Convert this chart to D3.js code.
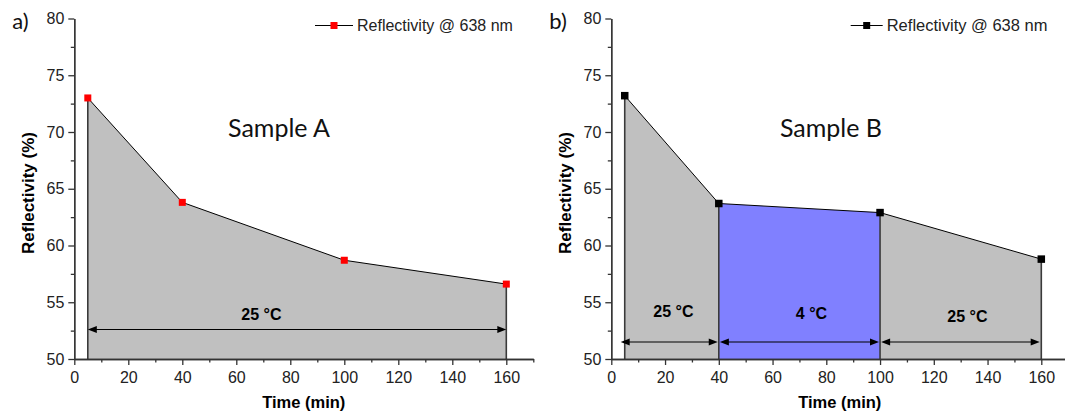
<!DOCTYPE html>
<html>
<head>
<meta charset="utf-8">
<script src="https://cdn.jsdelivr.net/npm/d3@7"></script>
<style>
  body { margin: 0; background: #fff; }
  svg { display: block; }
</style>
</head>
<body>
<div id="chart"></div>
<script>
// values
var timeA = [5, 40, 100, 160];
var reflA = [73.0, 63.8, 58.7, 56.6];
var timeB = [5, 40, 100, 160];
var reflB = [73.2, 63.7, 62.9, 58.8];

// temperature stages (start, end, temperature)
var stageStartA = [5];
var stageEndA = [160];
var stageTempA = [25];
var stageStartB = [5, 40, 100];
var stageEndB = [40, 100, 160];
var stageTempB = [25, 4, 25];

var xTickValues = [0, 20, 40, 60, 80, 100, 120, 140, 160];
var xMinorValues = [10, 30, 50, 70, 90, 110, 130, 150, 170];
var yTickValues = [50, 55, 60, 65, 70, 75, 80];
var yMinorValues = [52.5, 57.5, 62.5, 67.5, 72.5, 77.5];

var legendLabel = "Reflectivity @ 638 nm";
var xLabel = "Time (min)";
var yLabel = "Reflectivity (%)";

var width = 1065, height = 414;
var tempColor = {25: "#c0c0c0", 4: "#8080ff"};
var arial = "'Liberation Sans', Arial, sans-serif";

var svg = d3.select("#chart").append("svg")
  .attr("width", width).attr("height", height);

function drawPanel(p) {
  var x = d3.scaleLinear().domain([0, 170]).range([p.left, p.left + 170 * p.kx]);
  var y = d3.scaleLinear().domain([50, 80]).range([359, 18.5]);
  var g = svg.append("g");
  var pts = p.time.map(function(t, i) { return {t: t, v: p.refl[i]}; });

  // shaded stages
  p.start.forEach(function(s, i) {
    var e = p.end[i];
    var seg = pts.filter(function(d) { return d.t >= s && d.t <= e; });
    var area = d3.area().x(function(d) { return x(d.t); })
      .y0(y(50)).y1(function(d) { return y(d.v); });
    g.append("path").datum(seg).attr("d", area)
      .attr("fill", tempColor[p.temp[i]]).attr("stroke", "none");
  });

  // vertical stage boundaries
  var bounds = [];
  p.start.forEach(function(s, i) {
    if (bounds.indexOf(s) < 0) bounds.push(s);
    if (bounds.indexOf(p.end[i]) < 0) bounds.push(p.end[i]);
  });
  bounds.forEach(function(b) {
    var v = p.refl[p.time.indexOf(b)];
    g.append("line").attr("x1", x(b)).attr("x2", x(b))
      .attr("y1", y(50)).attr("y2", y(v))
      .attr("stroke", "#3a3a3a").attr("stroke-width", 1.6);
  });

  // data line
  var line = d3.line().x(function(d) { return x(d.t); }).y(function(d) { return y(d.v); });
  g.append("path").datum(pts).attr("d", line)
    .attr("fill", "none").attr("stroke", "#000").attr("stroke-width", 1);

  // arrows + labels
  p.start.forEach(function(s, i) {
    var a = p.arrows[i];
    var x1 = x(a[0]), x2 = x(a[1]), yy = y(p.arrowY);
    g.append("line").attr("x1", x1 + 4).attr("x2", x2 - 4)
      .attr("y1", yy).attr("y2", yy)
      .attr("stroke", "#000").attr("stroke-width", 1.2);
    g.append("path")
      .attr("d", "M" + x1 + "," + yy + "l9,-3.5v7z")
      .attr("fill", "#000");
    g.append("path")
      .attr("d", "M" + x2 + "," + yy + "l-9,-3.5v7z")
      .attr("fill", "#000");
    g.append("text")
      .attr("x", x(p.labelX[i])).attr("y", y(p.labelY[i]))
      .attr("text-anchor", "middle")
      .style("font-family", arial)
      .style("font-weight", "bold").style("font-size", "16px")
      .text(p.temp[i] + " °C");
  });

  // markers
  g.selectAll("rect.mk").data(pts).enter().append("rect")
    .attr("class", "mk")
    .attr("x", function(d) { return x(d.t) - p.ms / 2; })
    .attr("y", function(d) { return y(d.v) - p.ms / 2; })
    .attr("width", p.ms).attr("height", p.ms)
    .attr("fill", p.color);

  // axes
  g.append("g").attr("transform", "translate(0," + y(50) + ")")
    .call(d3.axisBottom(x).tickValues(xTickValues).tickSize(6).tickSizeOuter(0).tickPadding(7));
  g.append("g").attr("transform", "translate(0," + y(50) + ")")
    .call(d3.axisBottom(x).tickValues(xMinorValues).tickSize(3.5).tickFormat("").tickSizeOuter(0));
  g.append("g").attr("transform", "translate(" + x(0) + ",0)")
    .call(d3.axisLeft(y).tickValues(yTickValues).tickSize(6).tickSizeOuter(0).tickPadding(4));
  g.append("g").attr("transform", "translate(" + x(0) + ",0)")
    .call(d3.axisLeft(y).tickValues(yMinorValues).tickSize(3.5).tickFormat("").tickSizeOuter(0));
  g.selectAll(".domain, .tick line").attr("stroke", "#333").attr("stroke-width", 1.3);
  g.selectAll(".tick text")
    .attr("font-family", arial).attr("font-size", 16).attr("fill", "#222");

  // axis titles
  g.append("text")
    .attr("x", x(85)).attr("y", 408)
    .attr("text-anchor", "middle")
    .style("font-family", arial)
    .style("font-weight", "bold").style("font-size", "16.5px")
    .text(xLabel);
  g.append("text")
    .attr("transform", "translate(" + (p.left - 40) + ",193) rotate(-90)")
    .attr("text-anchor", "middle")
    .style("font-family", arial)
    .style("font-weight", "bold").style("font-size", "17px")
    .text(yLabel);

  // panel letter
  g.append("text").attr("x", p.left - 62).attr("y", 29)
    .style("font-family", "Lato, 'Open Sans', sans-serif").style("font-size", "22px")
    .style("fill", "#111")
    .text(p.letter);

  // sample title
  g.append("text").attr("x", p.titleX).attr("y", 137)
    .attr("text-anchor", "middle")
    .style("font-family", "Lato, 'Open Sans', sans-serif").style("font-size", "25px")
    .style("fill", "#111")
    .text(p.title);

  // legend
  var lg = g.append("g").attr("transform", "translate(" + p.legX + ",25.5)");
  lg.append("line").attr("x1", 0).attr("x2", p.legLine)
    .attr("y1", 0).attr("y2", 0).attr("stroke", "#000").attr("stroke-width", 1);
  lg.append("rect").attr("x", p.legLine / 2 - 3.5).attr("y", -3.5)
    .attr("width", 7).attr("height", 7).attr("fill", p.color);
  lg.append("text").attr("x", p.legLine + 4).attr("y", 0).attr("dy", "0.35em")
    .style("font-family", arial)
    .style("font-size", p.legFont).style("fill", "#222")
    .text(legendLabel);
}

drawPanel({
  left: 74.3, kx: 2.7, time: timeA, refl: reflA,
  start: stageStartA, end: stageEndA, temp: stageTempA,
  arrows: [[5, 160]], arrowY: 52.6,
  labelX: [69.3], labelY: [53.4],
  color: "#ff0000", ms: 7, letter: "a)",
  title: "Sample A", titleX: 279,
  legX: 315, legLine: 38, legFont: "16px"
});

drawPanel({
  left: 611.3, kx: 2.6875, time: timeB, refl: reflB,
  start: stageStartB, end: stageEndB, temp: stageTempB,
  arrows: [[3.5, 39.6], [40.4, 99.6], [100.4, 159.4]], arrowY: 51.5,
  labelX: [23.1, 74.5, 132.5], labelY: [53.7, 53.5, 53.3],
  color: "#000000", ms: 7.5, letter: "b)",
  title: "Sample B", titleX: 831,
  legX: 850.7, legLine: 32, legFont: "16.5px"
});
</script>
</body>
</html>
